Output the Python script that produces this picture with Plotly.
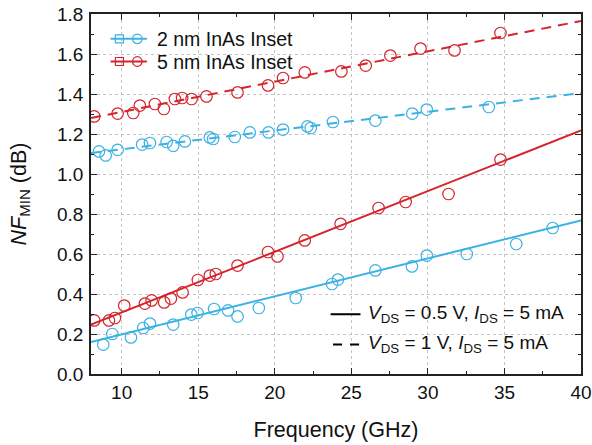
import plotly.graph_objects as go

# 2 nm InAs inset, VDS = 0.5 V (solid)
freq_2nm_05 = [8.8, 9.39, 10.61, 11.41, 11.85, 13.37, 14.55, 14.96, 16.04, 16.95, 17.57,
               18.96, 21.37, 23.74, 24.13, 26.57, 28.96, 29.93, 32.54, 35.77, 38.15]
nf_2nm_05 = [0.147, 0.200, 0.183, 0.230, 0.252, 0.247, 0.297, 0.305, 0.325, 0.318, 0.288,
             0.330, 0.380, 0.450, 0.472, 0.518, 0.538, 0.592, 0.600, 0.650, 0.730]

# 5 nm InAs inset, VDS = 0.5 V (solid)
freq_5nm_05 = [8.21, 9.17, 9.56, 10.17, 11.52, 11.96, 12.78, 13.22, 13.98, 14.98, 15.76,
               16.15, 17.57, 19.56, 20.18, 21.96, 24.3, 26.78, 28.55, 31.35, 34.74]
nf_5nm_05 = [0.268, 0.268, 0.280, 0.342, 0.352, 0.368, 0.358, 0.377, 0.408, 0.470, 0.492,
             0.500, 0.542, 0.610, 0.588, 0.668, 0.751, 0.830, 0.860, 0.900, 1.072]

# 2 nm InAs inset, VDS = 1 V (dashed)
freq_2nm_1 = [8.52, 8.96, 9.74, 11.34, 11.85, 12.94, 13.37, 14.13, 15.76, 15.98, 17.39,
              18.37, 19.59, 20.54, 22.13, 22.35, 23.80, 26.57, 28.98, 29.93, 33.98]
nf_2nm_1 = [1.113, 1.093, 1.121, 1.147, 1.155, 1.160, 1.141, 1.163, 1.183, 1.175, 1.185,
            1.208, 1.208, 1.222, 1.238, 1.230, 1.260, 1.267, 1.302, 1.322, 1.335]

# 5 nm InAs inset, VDS = 1 V (dashed)
freq_5nm_1 = [8.21, 9.74, 10.76, 11.19, 12.17, 12.76, 13.48, 13.95, 14.57, 15.54, 17.57,
              19.56, 20.54, 21.96, 24.35, 25.94, 27.55, 29.52, 31.74, 34.74]
nf_5nm_1 = [1.288, 1.302, 1.305, 1.342, 1.350, 1.325, 1.375, 1.380, 1.375, 1.388, 1.408,
            1.443, 1.480, 1.508, 1.513, 1.542, 1.592, 1.627, 1.618, 1.705]

# linear fits (end points read at 8 and 40 GHz)
fit_freq = [8, 40]
fit_2nm_05 = [0.160, 0.768]
fit_5nm_05 = [0.247, 1.218]
fit_2nm_1 = [1.105, 1.405]
fit_5nm_1 = [1.280, 1.765]

BLUE = "#3bb2e3"
RED = "#d4252c"
FONT = "Arial, Liberation Sans, sans-serif"

fig = go.Figure()

fits = [
    (fit_2nm_05, BLUE, "solid"),
    (fit_5nm_05, RED, "solid"),
    (fit_2nm_1, BLUE, "10px,7px"),
    (fit_5nm_1, RED, "10px,7px"),
]
for y, color, dash in fits:
    fig.add_scatter(x=fit_freq, y=y, mode="lines",
                    line=dict(color=color, width=2, dash=dash),
                    showlegend=False, hoverinfo="skip")

points = [
    (freq_2nm_05, nf_2nm_05, BLUE),
    (freq_5nm_05, nf_5nm_05, RED),
    (freq_2nm_1, nf_2nm_1, BLUE),
    (freq_5nm_1, nf_5nm_1, RED),
]
for x, y, color in points:
    fig.add_scatter(x=x, y=y, mode="markers",
                    marker=dict(symbol="circle-open", size=11.5, color=color,
                                line=dict(color=color, width=1.2)),
                    showlegend=False)

# legend drawn by hand (line + square + circle, as in the original)
shapes = []
annotations = []
for yy, color, label in [(0.931, BLUE, "2 nm InAs Inset"), (0.868, RED, "5 nm InAs Inset")]:
    shapes.append(dict(type="line", xref="paper", yref="paper", x0=0.040, x1=0.114,
                       y0=yy, y1=yy, line=dict(color=color, width=2)))
    shapes.append(dict(type="rect", xref="paper", yref="paper", xsizemode="pixel",
                       ysizemode="pixel", xanchor=0.058, yanchor=yy, x0=-4, x1=4, y0=-4, y1=4,
                       line=dict(color=color, width=1.2)))
    shapes.append(dict(type="circle", xref="paper", yref="paper", xsizemode="pixel",
                       ysizemode="pixel", xanchor=0.0945, yanchor=yy, x0=-4.8, x1=4.8,
                       y0=-4.8, y1=4.8, line=dict(color=color, width=1.2)))
    annotations.append(dict(text=label, xref="paper", yref="paper", x=0.131, y=yy,
                            xanchor="left", yanchor="middle", showarrow=False,
                            font=dict(size=19.5, color="#111", family=FONT)))

for yy, dash, label in [
    (0.166, "solid", "<i>V</i><sub>DS</sub> = 0.5 V, <i>I</i><sub>DS</sub> = 5 mA"),
    (0.082, "9px,8px", "<i>V</i><sub>DS</sub> = 1 V, <i>I</i><sub>DS</sub> = 5 mA"),
]:
    x0 = 0.489 if dash == "solid" else 0.494
    shapes.append(dict(type="line", xref="paper", yref="paper", x0=x0, x1=0.550,
                       y0=yy, y1=yy, line=dict(color="black", width=2, dash=dash)))
    annotations.append(dict(text=label, xref="paper", yref="paper", x=0.562, y=yy,
                            xanchor="left", yanchor="middle", showarrow=False,
                            font=dict(size=19, color="#111", family=FONT)))

axis_common = dict(
    showline=True, linecolor="#222", linewidth=1.5, mirror="allticks",
    ticks="inside", ticklen=6, tickwidth=1.2, tickcolor="#222",
    showgrid=True, gridcolor="#c4c4c4", griddash="dot", gridwidth=1,
    zeroline=False, automargin=False,
    tickfont=dict(size=19, color="#111", family=FONT),
)

fig.update_xaxes(
    range=[8, 40], dtick=5, tick0=0,
    minor=dict(dtick=2.5, ticks="inside", ticklen=3, tickcolor="#222", showgrid=False),
    title=dict(text="Frequency (GHz)", font=dict(size=21.5, color="#111", family=FONT), standoff=20),
    **axis_common,
)
fig.update_yaxes(
    range=[0, 1.8], dtick=0.2, tick0=0, tickformat=".1f", ticklabelstandoff=2,
    minor=dict(dtick=0.1, ticks="inside", ticklen=3, tickcolor="#222", showgrid=False),
    title=dict(text="<i>NF</i><sub>MIN</sub> (dB)", font=dict(size=21.5, color="#111", family=FONT),
               standoff=25),
    **axis_common,
)

fig.update_layout(
    width=592, height=445,
    margin=dict(l=91, r=11, t=14, b=71),
    plot_bgcolor="white", paper_bgcolor="white",
    shapes=shapes, annotations=annotations,
    showlegend=False,
    font=dict(family=FONT),
)

# the page's default 8px body margin would shift the figure, so drop it
fig.write_html("out.html", config={"displayModeBar": False},
               post_script="document.body.style.margin='0';")
